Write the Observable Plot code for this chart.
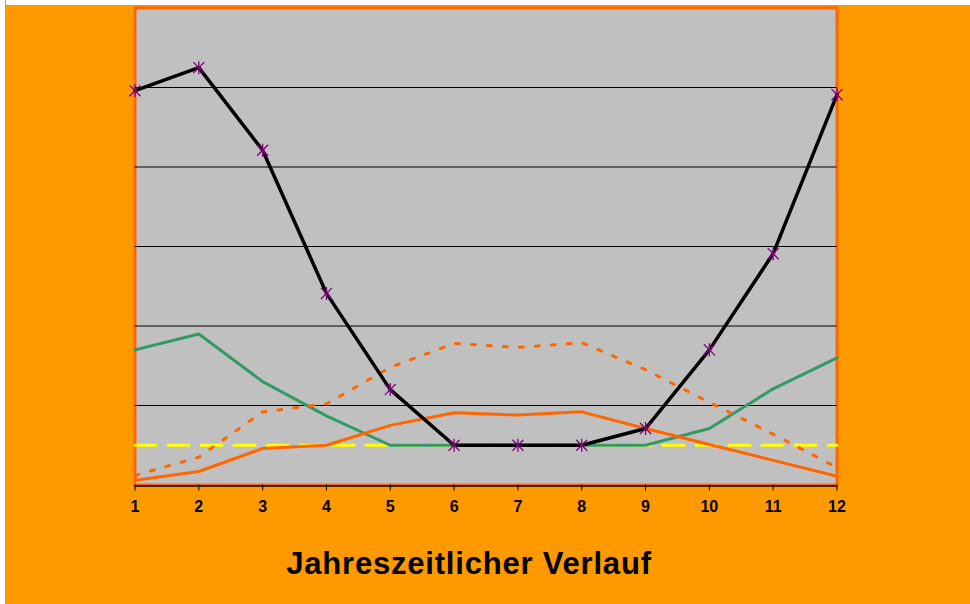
<!DOCTYPE html>
<html>
<head>
<meta charset="utf-8">
<script src="https://cdn.jsdelivr.net/npm/d3@7"></script>
<script src="https://cdn.jsdelivr.net/npm/@observablehq/plot@0.6"></script>
<style>
  html, body { margin: 0; padding: 0; background: #FF9900; width: 970px; height: 604px; overflow: hidden; }
  #wrap { position: relative; width: 970px; height: 604px; }
  .strip { position: absolute; background: #ffffff; }
  #title { width: 938px; text-align: center; font-family: "Liberation Sans", Arial, sans-serif; font-weight: bold; font-size: 31px; letter-spacing: 0.8px; line-height: 31px; color: #000; margin-top: 18px; }
</style>
</head>
<body>
<div id="wrap">
  <div id="chart"></div>
  <div id="title">Jahreszeitlicher Verlauf</div>
  <div class="strip" style="left:0;top:0;width:970px;height:5px;border-bottom:1px solid #a0a0a0;"></div>
  <div class="strip" style="left:0;top:0;width:5px;height:604px;border-right:1px solid #a0a0a0;"></div>
</div>
<script>
const months = [1, 2, 3, 4, 5, 6, 7, 8, 9, 10, 11, 12];
const blackSeries  = [4.96, 5.25, 4.21, 2.41, 1.20, 0.50, 0.50, 0.50, 0.71, 1.70, 2.91, 4.91];
const greenSeries  = [1.70, 1.90, 1.30, 0.87, 0.50, 0.50, 0.50, 0.50, 0.50, 0.71, 1.21, 1.60];
const orangeSolid  = [0.06, 0.17, 0.46, 0.50, 0.75, 0.91, 0.88, 0.92, 0.71, 0.51, 0.31, 0.11];
const orangeDotted = [0.12, 0.35, 0.92, 1.02, 1.48, 1.78, 1.73, 1.79, 1.45, 1.04, 0.64, 0.22];
const yellowLevel  = [0.5, 0.5, 0.5, 0.5, 0.5, 0.5, 0.5, 0.5, 0.5, 0.5, 0.5, 0.5];
const gridValues = [1, 2, 3, 4, 5];

const toRows = (vals) => months.map((m, i) => ({month: m, value: vals[i]}));

const asterisk = {
  draw(context, size) {
    const r = Math.sqrt(size / Math.PI);
    const d = r * 0.85;
    context.moveTo(0, -r); context.lineTo(0, r);
    context.moveTo(-d, -d); context.lineTo(d, d);
    context.moveTo(-d, d); context.lineTo(d, -d);
  }
};

const chart = Plot.plot({
  width: 970,
  height: 530,
  marginLeft: 134.5,
  marginRight: 133.5,
  marginTop: 7.5,
  marginBottom: 45.5,
  style: {background: "transparent", fontFamily: "'Liberation Sans', Arial, sans-serif", fontWeight: "bold", fontSize: "16px", color: "#000"},
  x: {domain: [1, 12], axis: null},
  y: {domain: [0, 6], axis: null},
  marks: [
    Plot.frame({fill: "#C0C0C0", stroke: "#FF6600", strokeWidth: 3}),
    Plot.ruleY(gridValues, {stroke: "#000", strokeWidth: 1}),
    Plot.ruleY([0], {stroke: "#000", strokeWidth: 1.5, dy: 1}),
    Plot.axisX({ticks: months, tickFormat: d => String(d), tickSize: 6, tickPadding: 10, fontWeight: "bold", fontSize: 16, label: null}),
    Plot.line(toRows(yellowLevel), {x: "month", y: "value", stroke: "#FFFF00", strokeWidth: 3, strokeDasharray: "21,12"}),
    Plot.line(toRows(greenSeries), {x: "month", y: "value", stroke: "#339966", strokeWidth: 3}),
    Plot.line(toRows(orangeSolid), {x: "month", y: "value", stroke: "#FF6600", strokeWidth: 3}),
    Plot.line(toRows(orangeDotted), {x: "month", y: "value", stroke: "#FF6600", strokeWidth: 3, strokeDasharray: "4,12"}),
    Plot.line(toRows(blackSeries), {x: "month", y: "value", stroke: "#000", strokeWidth: 3.5}),
    Plot.dot(toRows(blackSeries), {x: "month", y: "value", symbol: asterisk, r: 6.5, stroke: "#800080", strokeWidth: 1.3, fill: "none"})
  ]
});
document.getElementById("chart").appendChild(chart);
</script>
</body>
</html>
